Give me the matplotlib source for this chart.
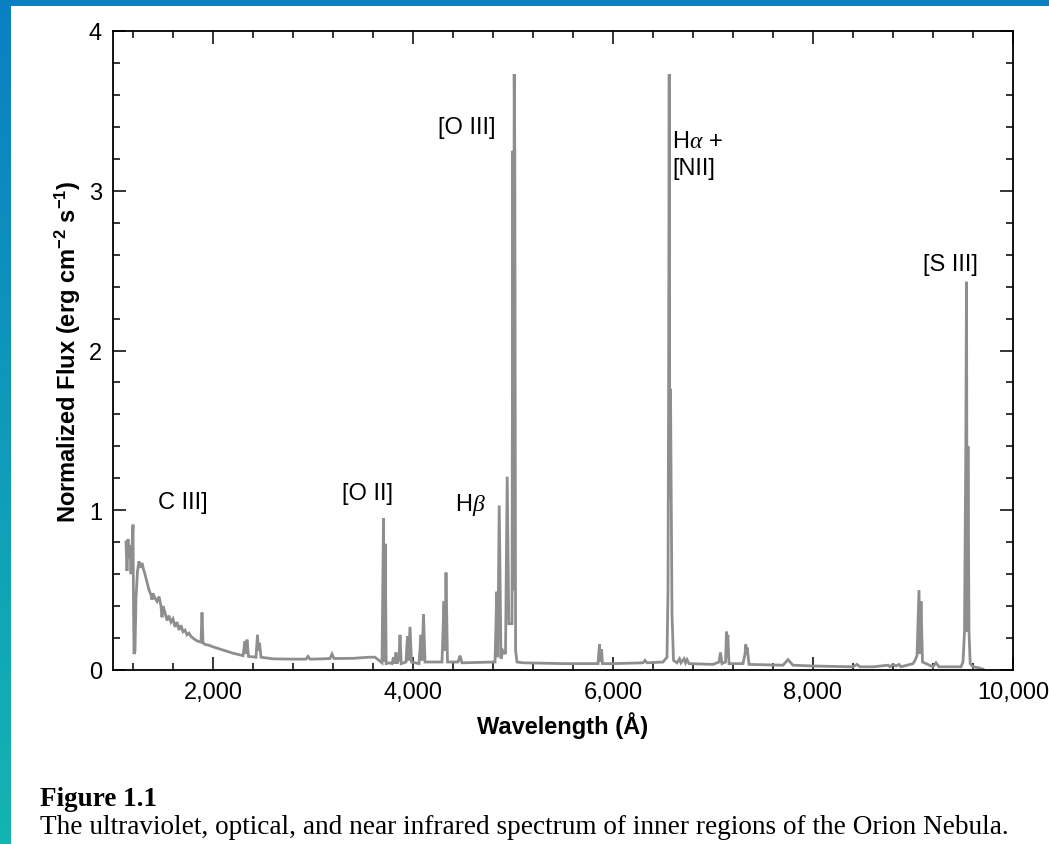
import numpy as np
import matplotlib
matplotlib.use("Agg")
import matplotlib.pyplot as plt
from matplotlib.ticker import MultipleLocator, FixedLocator, FuncFormatter

# ---------------- data ----------------
wavelength = [
    1130, 1140, 1150, 1160, 1170, 1180, 1190, 1200, 1205, 1210, 1220, 1230, 1245,
    1260, 1275, 1290, 1305, 1320, 1340, 1360, 1380, 1390, 1400, 1420, 1440, 1460,
    1480, 1490, 1500, 1520, 1540, 1560, 1580, 1600, 1620, 1640, 1660, 1680, 1700,
    1720, 1740, 1760, 1780, 1800, 1820, 1850, 1880, 1890, 1900, 1920, 1960, 2000,
    2100, 2200, 2300, 2320, 2330, 2340, 2355, 2430, 2445, 2455, 2465, 2480, 2600,
    2800, 2930, 2950, 2970, 3100, 3170, 3190, 3210, 3400, 3560, 3620, 3660, 3690,
    3705, 3712, 3722, 3732, 3760, 3790, 3805, 3815, 3830, 3840, 3860, 3870, 3882,
    3930, 3945, 3955, 3970, 3985, 4060, 4080, 4090, 4105, 4120, 4290, 4310, 4320,
    4330, 4345, 4450, 4470, 4490, 4820, 4838, 4848, 4862, 4880, 4900, 4925, 4942,
    4958, 4990, 4998, 5006, 5012, 5018, 5026, 5040, 5100, 5500, 5850, 5865, 5872,
    5885, 5895, 6000, 6300, 6320, 6340, 6500, 6540, 6550, 6556, 6562, 6568, 6575,
    6582, 6590, 6605, 6640, 6665, 6680, 6710, 6725, 6740, 6760, 7000, 7060, 7075,
    7090, 7125, 7135, 7142, 7148, 7160, 7300, 7320, 7328, 7335, 7342, 7360, 7700,
    7750, 7800, 8000, 8400, 8440, 8470, 8600, 8750, 8770, 8800, 8830, 8860, 8880,
    9000, 9020, 9040, 9060, 9070, 9080, 9095, 9200, 9230, 9260, 9480, 9500, 9515,
    9528, 9535, 9542, 9550, 9560, 9572, 9600, 9650, 9700,
]
flux = [
    0.80, 0.62, 0.82, 0.70, 0.78, 0.60, 0.75, 0.91, 0.40, 0.10, 0.12, 0.45, 0.62,
    0.68, 0.64, 0.67, 0.63, 0.60, 0.55, 0.50, 0.47, 0.44, 0.48, 0.45, 0.43, 0.46,
    0.40, 0.33, 0.40, 0.36, 0.31, 0.34, 0.30, 0.32, 0.27, 0.30, 0.25, 0.28, 0.24,
    0.25, 0.22, 0.23, 0.21, 0.20, 0.19, 0.18, 0.175, 0.36, 0.17, 0.16, 0.155, 0.145,
    0.125, 0.105, 0.09, 0.18, 0.10, 0.19, 0.085, 0.08, 0.22, 0.12, 0.17, 0.08, 0.07,
    0.068, 0.068, 0.085, 0.068, 0.07, 0.072, 0.10, 0.072, 0.073, 0.08, 0.08, 0.06, 0.045,
    0.95, 0.05, 0.79, 0.04, 0.045, 0.04, 0.08, 0.04, 0.11, 0.04, 0.07, 0.22, 0.04,
    0.05, 0.21, 0.06, 0.27, 0.05, 0.04, 0.22, 0.06, 0.35, 0.05, 0.05, 0.43, 0.12,
    0.61, 0.05, 0.05, 0.09, 0.045, 0.05, 0.49, 0.08, 1.03, 0.07, 0.12, 0.10, 1.21,
    0.29, 0.29, 3.25, 0.50, 3.73, 3.25, 0.12, 0.05, 0.045, 0.04, 0.04, 0.16, 0.05,
    0.13, 0.04, 0.04, 0.045, 0.06, 0.045, 0.05, 0.08, 0.50, 1.76, 3.73, 1.08, 1.76,
    1.08, 0.35, 0.06, 0.045, 0.07, 0.045, 0.07, 0.045, 0.065, 0.04, 0.035, 0.05, 0.11,
    0.04, 0.05, 0.24, 0.08, 0.22, 0.04, 0.04, 0.10, 0.16, 0.10, 0.14, 0.035, 0.03,
    0.065, 0.03, 0.025, 0.02, 0.035, 0.02, 0.02, 0.03, 0.02, 0.035, 0.025, 0.035, 0.02,
    0.04, 0.06, 0.09, 0.50, 0.10, 0.43, 0.05, 0.02, 0.045, 0.02, 0.02, 0.05, 0.24,
    1.40, 2.43, 0.24, 1.40, 0.24, 0.04, 0.02, 0.015, 0.005,
]

x_major = [2000, 4000, 6000, 8000, 10000]
y_major = [0, 1, 2, 3, 4]

line_labels = [
    ("C III]", 1700, 1.05, "center"),
    ("[O II]", 3550, 1.11, "center"),
    ("H$\\mathit{\\beta}$", 4570, 1.04, "center"),
    ("[O III]", 4540, 3.40, "center"),
    ("H$\\mathit{\\alpha}$ +", 6590, 3.31, "left"),
    ("[NII]", 6590, 3.14, "left"),
    ("[S III]", 9370, 2.54, "center"),
]

# ---------------- styling ----------------
plt.rcParams['font.family'] = ['Liberation Sans', 'DejaVu Sans']
plt.rcParams['mathtext.fontset'] = 'custom'
plt.rcParams['mathtext.it'] = 'Liberation Serif:italic'
plt.rcParams['mathtext.rm'] = 'Liberation Sans'
plt.rcParams['mathtext.default'] = 'regular'

W, H = 1049, 845
fig = plt.figure(figsize=(W / 100, H / 100), dpi=100)
fig.patch.set_facecolor('white')

# blue frame (top band + left gradient band)
top_ax = fig.add_axes([0, 1 - 7 / H, 1, 7 / H])
top_ax.set_axis_off()
top_ax.add_patch(plt.Rectangle((0, 0), 1, 1, color='#0a80c2', transform=top_ax.transAxes))

left_ax = fig.add_axes([0, 0, 11 / W, 1 - 7 / H])
left_ax.set_axis_off()
c_top = np.array([0x0a, 0x80, 0xc2]) / 255
c_bot = np.array([0x14, 0xb4, 0xb2]) / 255
t = np.linspace(0, 1, 256)[:, None]
grad = (c_top[None, :] * (1 - t) + c_bot[None, :] * t)[:, None, :]
left_ax.imshow(grad, aspect='auto', extent=[0, 1, 0, 1], origin='upper')

# main axes
ax = fig.add_axes([113 / W, 1 - 671 / H, 900 / W, 639 / H])
ax.plot(wavelength, flux, color='#8e8e8e', lw=2.0, solid_joinstyle='miter')
ax.set_xlim(1000, 10000)
ax.set_ylim(0, 4)

ax.xaxis.set_major_locator(FixedLocator(x_major))
ax.xaxis.set_minor_locator(MultipleLocator(400))
ax.yaxis.set_major_locator(FixedLocator(y_major))
ax.yaxis.set_minor_locator(MultipleLocator(0.2))
ax.xaxis.set_major_formatter(FuncFormatter(lambda v, p: f"{int(v):,}"))
ax.yaxis.set_major_formatter(FuncFormatter(lambda v, p: f"{int(v)}"))
ax.tick_params(which='both', direction='in', top=True, right=True, width=1.1, colors='black')
ax.tick_params(which='major', length=9.5, labelsize=17, pad=8)
ax.tick_params(which='minor', length=5)
for s in ax.spines.values():
    s.set_linewidth(1.3)

ax.set_xlabel("Wavelength (Å)", fontsize=17, fontweight='bold', labelpad=6)
ax.set_ylabel("Normalized Flux (erg cm$^{-2}$ s$^{-1}$)", fontsize=17,
              fontweight='bold', labelpad=4)

for txt, xv, yv, ha in line_labels:
    ax.text(xv, yv, txt, fontsize=17, ha=ha, va='center', color='black')

# caption
fig.text(40 / W, 1 - 800 / H, "Figure 1.1", fontsize=19.5, fontweight='bold',
         family='Liberation Serif', va='center', ha='left')
fig.text(40 / W, 1 - 828 / H,
         "The ultraviolet, optical, and near infrared spectrum of inner regions of the Orion Nebula.",
         fontsize=19.6, family='Liberation Serif', va='center', ha='left')

fig.savefig("out.png", dpi=100)
